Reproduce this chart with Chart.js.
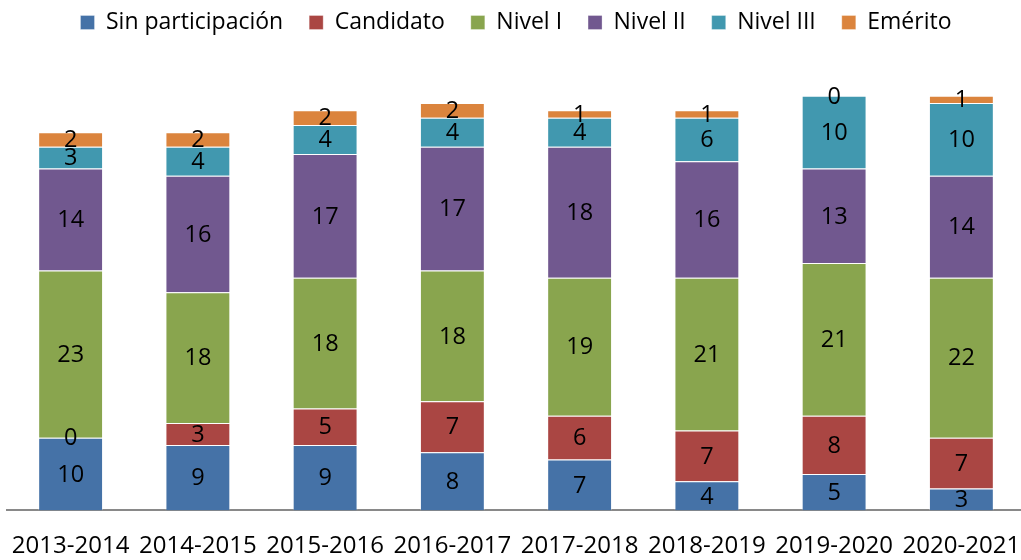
<!DOCTYPE html>
<html>
<head>
<meta charset="utf-8">
<script src="https://cdn.jsdelivr.net/npm/chart.js@4/dist/chart.umd.min.js"></script>
<style>
  html, body { margin: 0; padding: 0; background: #fff; overflow: hidden; }
  #wrap { position: absolute; left: 0; top: -15px; width: 1032px; height: 575px; }
</style>
</head>
<body>
<div id="wrap"><canvas id="c" width="1032" height="575"></canvas></div>
<script>
const categories = ['2013-2014','2014-2015','2015-2016','2016-2017','2017-2018','2018-2019','2019-2020','2020-2021'];
const sinParticipacion = [10, 9, 9, 8, 7, 4, 5, 3];
const candidato        = [0, 3, 5, 7, 6, 7, 8, 7];
const nivelI           = [23, 18, 18, 18, 19, 21, 21, 22];
const nivelII          = [14, 16, 17, 17, 18, 16, 13, 14];
const nivelIII         = [3, 4, 4, 4, 4, 6, 10, 10];
const emerito          = [2, 2, 2, 2, 1, 1, 0, 1];

const FONT = "'Open Sans', 'DejaVu Sans', sans-serif";

const seriesDefs = [
  ['Sin participación', sinParticipacion, '#4572A7'],
  ['Candidato', candidato, '#AA4643'],
  ['Nivel I', nivelI, '#89A54E'],
  ['Nivel II', nivelII, '#71588F'],
  ['Nivel III', nivelIII, '#4198AF'],
  ['Emérito', emerito, '#DB843D']
];

const datasets = seriesDefs.map(([label, data, color]) => ({
  label, data,
  backgroundColor: color,
  borderColor: 'rgba(255,255,255,0.3)',
  borderWidth: 1,
  borderSkipped: 'start',
  categoryPercentage: 1.0,
  barPercentage: 0.51
}));

const labelPlugin = {
  id: 'segLabels',
  afterDatasetsDraw(chart) {
    const ctx = chart.ctx;
    ctx.save();
    ctx.font = '23.5px ' + FONT;
    ctx.fillStyle = '#000';
    ctx.textAlign = 'center';
    ctx.textBaseline = 'middle';
    chart.data.datasets.forEach((ds, i) => {
      const meta = chart.getDatasetMeta(i);
      meta.data.forEach((el, j) => {
        const v = ds.data[j];
        const y = (el.y + el.base) / 2;
        ctx.fillText(String(v), el.x, y + 1);
      });
    });
    ctx.restore();
  }
};

const legendHeightPlugin = {
  id: 'legendHeight',
  beforeInit(chart) {
    const origFit = chart.legend.fit;
    chart.legend.fit = function () {
      origFit.call(this);
      this.height = 89;
    };
  }
};

new Chart(document.getElementById('c'), {
  type: 'bar',
  data: { labels: categories, datasets },
  options: {
    responsive: false,
    animation: false,
    devicePixelRatio: 1,
    layout: { padding: { left: 7, right: 7, top: 0, bottom: 0 } },
    plugins: {
      legend: {
        position: 'top',
        labels: {
          boxWidth: 14,
          boxHeight: 14,
          padding: 26,
          color: '#000',
          font: { family: FONT, size: 23 }
        }
      },
      tooltip: { enabled: false }
    },
    scales: {
      x: {
        stacked: true,
        grid: { display: true, drawOnChartArea: false, drawTicks: true, tickLength: 22, color: 'rgba(0,0,0,0)' },
        border: { display: true, color: '#898989', width: 2 },
        ticks: { color: '#000', font: { family: FONT, size: 24, lineHeight: 0.9 }, padding: 3, maxRotation: 0, autoSkip: false }
      },
      y: {
        stacked: true,
        display: false,
        min: 0,
        max: 60
      }
    }
  },
  plugins: [labelPlugin, legendHeightPlugin]
});
</script>
</body>
</html>
